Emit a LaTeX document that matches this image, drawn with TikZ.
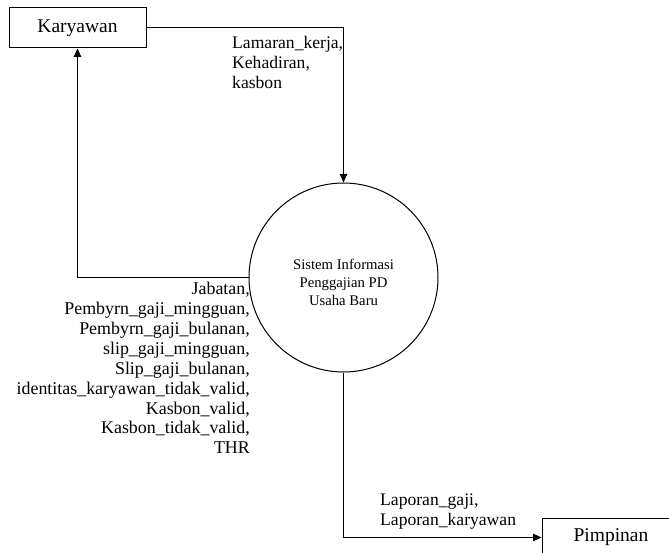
\documentclass[tikz,border=0pt]{standalone}
\usepackage{fontspec}
\setmainfont{Liberation Serif}
\usepackage{tikz}
\usetikzlibrary{arrows.meta}
\tikzset{
  entity/.style={draw=black, line width=1pt, fill=white, inner sep=0pt, font=\fontsize{19.5}{22}\selectfont},
  process/.style={draw=black, line width=1pt, circle, minimum size=189pt, inner sep=0pt},
  ptext/.style={inner sep=0pt, align=center, font=\fontsize{14.7}{18}\selectfont},
  flow/.style={draw=black, line width=1pt, -{Triangle[length=8.5pt,width=7.5pt]}},
  lbl/.style={inner sep=0pt, font=\fontsize{17.6}{20}\selectfont}
}

\begin{document}
\begin{tikzpicture}[x=1pt,y=-1pt]
  \clip (0,0) rectangle (669,553);
  \fill[white] (0,0) rectangle (669,553);

  \node[entity, minimum width=137pt, minimum height=40pt] (karyawan) at (77.5,28) {Karyawan};
  \node[process] (sistem) at (343.5,277.5) {};
  \node[ptext] (sistemteks) at (343.5,282) {Sistem Informasi\\Penggajian PD\\Usaha Baru};
  \node[entity, minimum width=138pt, minimum height=39pt] (pimpinan) at (611,537.5) {Pimpinan};

  \draw[flow] (karyawan.east) -| (sistem.north);
  \draw[flow] (sistem.west) -| (karyawan.south);
  \draw[flow] (sistem.south) |- (pimpinan.west);

  % data flow labels
  \node[lbl, anchor=north west, align=left] (masuk) at (232,36)
    {Lamaran\_kerja,\\Kehadiran,\\kasbon};
  \node[lbl, anchor=north east, align=right, font=\fontsize{17.9}{19.9}\selectfont] (balik) at (250,282)
    {Jabatan,\\Pembyrn\_gaji\_mingguan,\\Pembyrn\_gaji\_bulanan,\\slip\_gaji\_mingguan,\\Slip\_gaji\_bulanan,\\identitas\_karyawan\_tidak\_valid,\\Kasbon\_valid,\\Kasbon\_tidak\_valid,\\THR};
  \node[lbl, anchor=north west, align=left] (laporan) at (380,494)
    {Laporan\_gaji,\\Laporan\_karyawan};
\end{tikzpicture}
\end{document}
